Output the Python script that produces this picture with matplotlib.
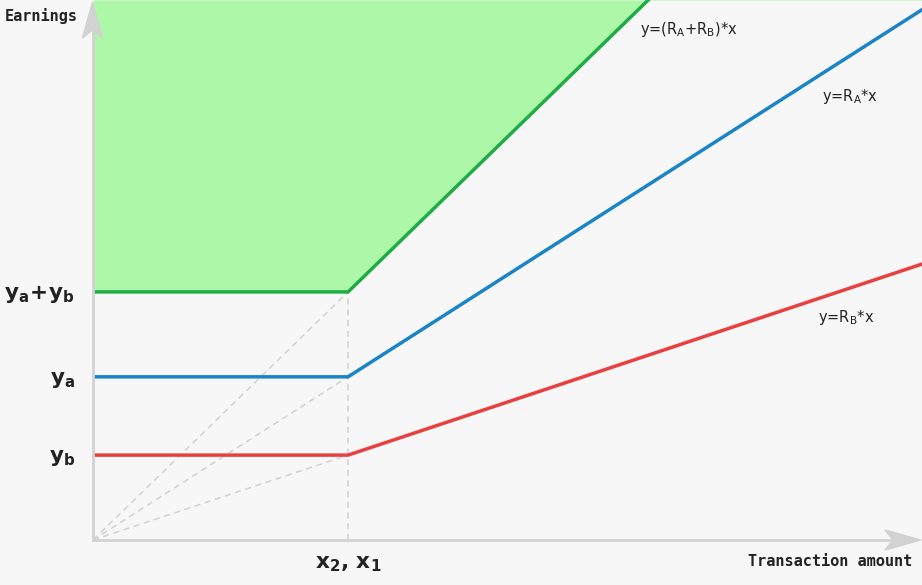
import numpy as np
import matplotlib.pyplot as plt
from matplotlib.patches import Polygon

# values (arbitrary units, x2 = 1)
x2 = 1.0
ya = 0.64
yb = 0.333
x_max = 3.25
y_max = 2.118

ra = ya / x2
rb = yb / x2
rab = (ya + yb) / x2

tick_labels_y = [r'$\mathbf{y_b}$', r'$\mathbf{y_a}$', r'$\mathbf{y_a\!+\!y_b}$']
tick_label_x = r'$\mathbf{x_2,\,x_1}$'

bg = '#f7f7f7'
c_green = '#1fac45'
c_blue = '#1a84c7'
c_red = '#ea3f3f'
c_fill = '#adf8a8'
c_grid = '#d2d2d2'

fig = plt.figure(figsize=(9.22, 5.85), dpi=100, facecolor=bg)
ax = fig.add_axes([93/922, 45/585, 829/922, 540/585])
ax.set_facecolor(bg)
ax.set_xlim(0, x_max)
ax.set_ylim(0, y_max)
for s in ax.spines.values():
    s.set_visible(False)

xs = np.array([0, x2, x_max])
green = np.array([ya + yb, ya + yb, rab * x_max])
blue = np.array([ya, ya, ra * x_max])
red = np.array([yb, yb, rb * x_max])

ax.fill_between(xs, green, y_max, color=c_fill, lw=0, zorder=1)

# dashed guides
for yv in [ya + yb, ya, yb]:
    ax.plot([0, x2], [0, yv], ls=(0, (4, 3)), color=c_grid, lw=1.1, zorder=2)
ax.plot([x2, x2], [0, ya + yb], ls=(0, (4, 3)), color=c_grid, lw=1.1, zorder=2)

ax.plot(xs, green, color=c_green, lw=2.5, zorder=3)
ax.plot(xs, blue, color=c_blue, lw=2.5, zorder=3)
ax.plot(xs, red, color=c_red, lw=2.5, zorder=3)

# axis lines
ax.plot([0, 0], [0, y_max - 30/255], color=c_grid, lw=2, zorder=4, clip_on=False)
ax.plot([0, x_max - 30/255], [0, 0], color=c_grid, lw=2, zorder=4, clip_on=False)

# concave arrow heads (pixel coords)
tipy = (92.5, 583)
fig.patches.append(Polygon([tipy, (tipy[0] - 10, tipy[1] - 36), (tipy[0], tipy[1] - 28),
                            (tipy[0] + 10, tipy[1] - 36)], closed=True, transform=None,
                           color=c_grid, zorder=5))
tipx = (921, 45)
fig.patches.append(Polygon([tipx, (tipx[0] - 36, tipx[1] + 10), (tipx[0] - 28, tipx[1]),
                            (tipx[0] - 36, tipx[1] - 10)], closed=True, transform=None,
                           color=c_grid, zorder=5))

ax.set_yticks([yb, ya, ya + yb], tick_labels_y, fontsize=15.5, color='#222222')
ax.set_xticks([x2], [tick_label_x], fontsize=15.5, color='#222222')
ax.tick_params(axis='y', length=0, pad=13)
ax.tick_params(axis='x', length=0, pad=10)

mono = dict(family='DejaVu Sans Mono', fontsize=11, fontweight='bold', color='#222222')
fig.text(5/922, 1 - 16/585, 'Earnings', ha='left', va='center', **mono)
fig.text(912/922, 1 - 562/585, 'Transaction amount', ha='right', va='center', **mono)

lab = dict(fontsize=10.5, color='#222222', ha='left', va='center')
ax.text(547/255, y_max - 30/255, r'y=(R$_\mathrm{A}$+R$_\mathrm{B}$)*x', **lab)
ax.text(729/255, y_max - 97/255, r'y=R$_\mathrm{A}$*x', **lab)
ax.text(725/255, y_max - 318/255, r'y=R$_\mathrm{B}$*x', **lab)

fig.savefig('out.png', dpi=100, facecolor=bg)
